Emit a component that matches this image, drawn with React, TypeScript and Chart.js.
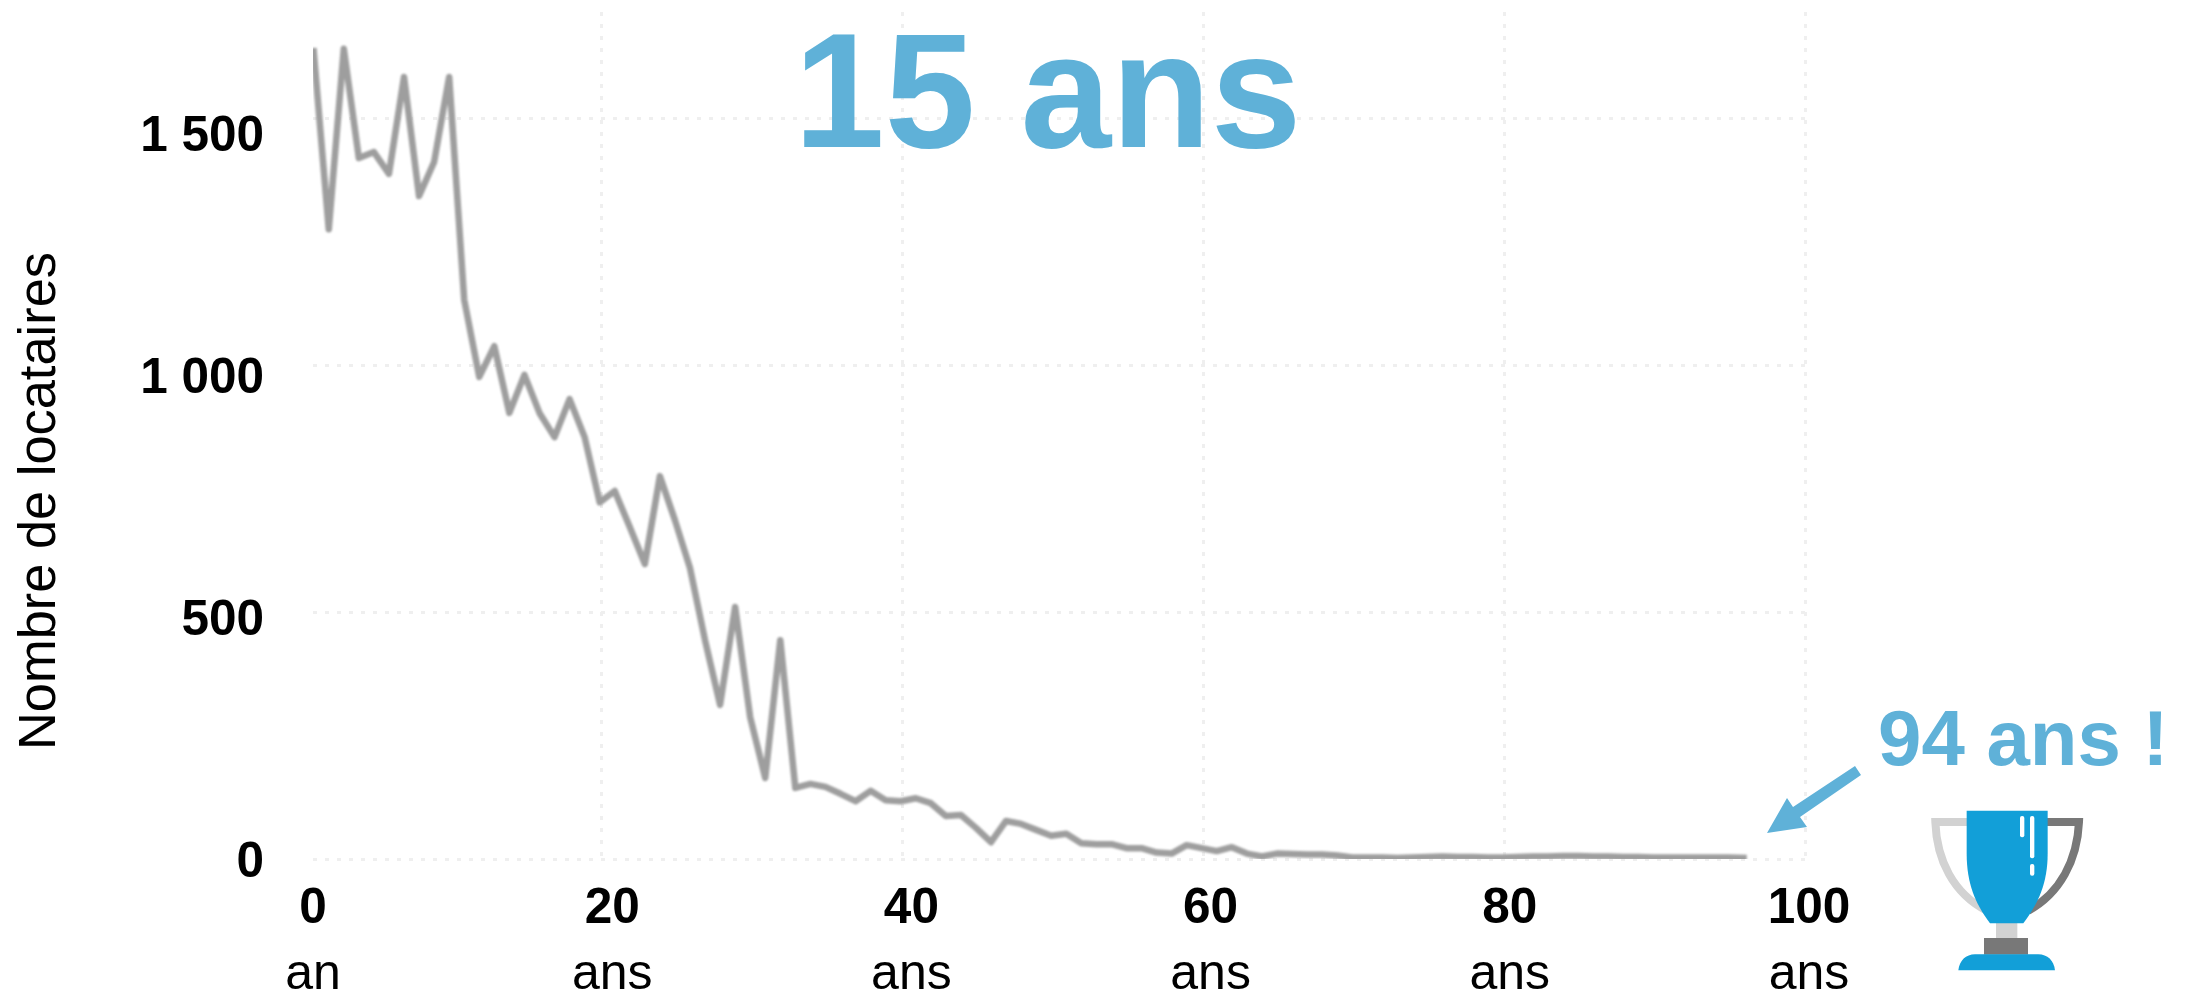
import React, { useEffect, useRef } from "react";
import { Chart, registerables } from "chart.js";

Chart.register(...registerables);

const ages = [
  1, 2, 3, 4, 5, 6, 7, 8, 9, 10, 11, 12, 13, 14, 15, 16, 17, 18, 19, 20, 21, 22, 23, 24, 25, 26, 27, 28, 29, 30, 31, 32,
  33, 34, 35, 36, 37, 38, 39, 40, 41, 42, 43, 44, 45, 46, 47, 48, 49, 50, 51, 52, 53, 54, 55, 56, 57, 58, 59, 60, 61,
  62, 63, 64, 65, 66, 67, 68, 69, 70, 71, 72, 73, 74, 75, 76, 77, 78, 79, 80, 81, 82, 83, 84, 85, 86, 87, 88, 89, 90,
  91, 92, 93, 94, 95, 96,
];
const tenants = [
  1635, 1275, 1640, 1419, 1431, 1387, 1583, 1342, 1411, 1583, 1132, 976, 1038, 903, 980, 903, 854, 931, 854, 722, 745,
  672, 597, 775, 686, 589, 443, 312, 510, 287, 164, 443, 144, 152, 146, 132, 117, 138, 119, 117, 123, 113, 87, 89, 63,
  34, 77, 71, 59, 47, 51, 32, 30, 30, 22, 22, 13, 11, 28, 22, 16, 24, 11, 5, 11, 10, 9, 9, 7, 3, 3, 3, 2, 3, 4, 5, 4,
  4, 3, 3, 4, 5, 5, 6, 6, 5, 5, 4, 4, 3, 3, 3, 3, 3, 3, 2,
];
const xTickValues = [0, 20, 40, 60, 80, 100];
const xTickUnits = ["an", "ans", "ans", "ans", "ans", "ans"];
const xGridValues = [20, 40, 60, 80, 100];
const yTickValues = [0, 500, 1000, 1500];
const yTickLabels = ["0", "500", "1 000", "1 500"];
const yGridValues = [0, 500, 1000, 1500];
const mainTitle = "15 ans";
const recordTitle = "94 ans !";
const yAxisTitle = "Nombre de locataires";

const FONT = '"Liberation Sans", Arial, sans-serif';
const ACCENT = "#5FB1D8";
const CUP = "#129FD8";

const toTicks = (values: number[]) => values.map((value) => ({ value }));
const noPadding = (s: any) => {
  s.paddingTop = 0;
  s.paddingBottom = 0;
  s.paddingLeft = 0;
  s.paddingRight = 0;
};

function drawTrophy(ctx: CanvasRenderingContext2D) {
  ctx.save();
  ctx.translate(1700, 680);
  ctx.scale(1 / 3, 1 / 3);
  ctx.lineWidth = 24;
  ctx.lineCap = "butt";
  ctx.strokeStyle = "#D2D2D2";
  ctx.beginPath();
  ctx.moveTo(810, 426);
  ctx.lineTo(706, 426);
  ctx.bezierCurveTo(710, 540, 760, 640, 860, 692);
  ctx.stroke();
  ctx.strokeStyle = "#787878";
  ctx.beginPath();
  ctx.moveTo(1030, 426);
  ctx.lineTo(1137, 426);
  ctx.bezierCurveTo(1132, 540, 1080, 640, 985, 692);
  ctx.stroke();
  ctx.fillStyle = "#D2D2D2";
  ctx.fillRect(888, 725, 64, 52);
  ctx.fillStyle = "#787878";
  ctx.fillRect(852, 774, 132, 50);
  ctx.fillStyle = CUP;
  ctx.beginPath();
  ctx.moveTo(800, 392);
  ctx.lineTo(1043, 392);
  ctx.lineTo(1043, 520);
  ctx.bezierCurveTo(1043, 610, 1015, 670, 970, 730);
  ctx.lineTo(870, 730);
  ctx.bezierCurveTo(825, 670, 800, 610, 800, 520);
  ctx.closePath();
  ctx.fill();
  ctx.beginPath();
  ctx.moveTo(775, 871);
  ctx.bezierCurveTo(778, 842, 798, 823, 825, 823);
  ctx.lineTo(1015, 823);
  ctx.bezierCurveTo(1042, 823, 1062, 842, 1065, 871);
  ctx.closePath();
  ctx.fill();
  ctx.fillStyle = "#FFFFFF";
  const bars: [number, number, number][] = [
    [960, 408, 64],
    [990, 408, 127],
    [990, 552, 35],
  ];
  for (const [x, y, h] of bars) {
    ctx.beginPath();
    ctx.roundRect(x, y, 13, h, 6);
    ctx.fill();
  }
  ctx.restore();
}

function drawArrow(ctx: CanvasRenderingContext2D) {
  ctx.save();
  ctx.fillStyle = ACCENT;
  ctx.beginPath();
  ctx.moveTo(1855, 766);
  ctx.lineTo(1861, 775);
  ctx.lineTo(1800, 817);
  ctx.lineTo(1807, 827);
  ctx.lineTo(1767, 833);
  ctx.lineTo(1787, 798);
  ctx.lineTo(1793, 807);
  ctx.closePath();
  ctx.fill();
  ctx.restore();
}

const annotations = {
  id: "annotations",
  beforeDatasetsDraw(chart: Chart) {
    chart.ctx.save();
    (chart.ctx as any).filter = "blur(0.9px)";
  },
  afterDatasetsDraw(chart: Chart) {
    chart.ctx.restore();
  },
  afterDraw(chart: Chart) {
    const ctx = chart.ctx;
    ctx.save();
    ctx.textBaseline = "alphabetic";
    ctx.fillStyle = ACCENT;
    ctx.textAlign = "left";
    ctx.font = `bold 163px ${FONT}`;
    ctx.fillText(mainTitle, 794, 147);
    ctx.font = `bold 78px ${FONT}`;
    ctx.fillText(recordTitle, 1878, 765);
    ctx.fillStyle = "#000000";
    ctx.textAlign = "center";
    ctx.font = `52.4px ${FONT}`;
    ctx.translate(55, 501);
    ctx.rotate(-Math.PI / 2);
    ctx.fillText(yAxisTitle, 0, 0);
    ctx.restore();
    drawArrow(ctx);
    drawTrophy(ctx);
  },
};

export default function App() {
  const ref = useRef<HTMLCanvasElement>(null);
  useEffect(() => {
    if (!ref.current) return;
    const gridStyle = {
      color: "#EFEFEF",
      lineWidth: 3,
      drawTicks: false,
    };
    const chart = new Chart(ref.current, {
      type: "line",
      data: {
        datasets: [
          {
            data: ages.map((a, i) => ({ x: a, y: tenants[i] })),
            borderColor: "#9E9E9E",
            borderWidth: 6.5,
            pointRadius: 0,
            tension: 0,
            borderCapStyle: "square",
            borderJoinStyle: "round",
            xAxisID: "x",
            yAxisID: "y",
          },
        ],
      },
      plugins: [annotations],
      options: {
        responsive: false,
        animation: false,
        layout: { padding: { left: 0, top: 12, right: 390, bottom: 0 } },
        plugins: { legend: { display: false }, tooltip: { enabled: false }, title: { display: false } },
        scales: {
          x: { type: "linear", display: false, min: 0.953, max: 100.35 },
          xGrid: {
            type: "linear",
            position: "bottom",
            min: 0.817,
            max: 100.22,
            weight: 0,
            afterBuildTicks: (s: any) => {
              s.ticks = toTicks(xGridValues);
            },
            afterFit: (s: any) => {
              s.height = 0;
              noPadding(s);
            },
            ticks: { display: false },
            border: { display: false, dash: [4, 8] },
            grid: gridStyle,
          },
          xTop: {
            type: "linear",
            position: "bottom",
            min: 0,
            max: 100,
            weight: 1,
            afterBuildTicks: (s: any) => {
              s.ticks = toTicks(xTickValues);
            },
            afterFit: (s: any) => {
              s.height = 78;
              noPadding(s);
            },
            border: { display: false },
            grid: { display: false },
            ticks: {
              autoSkip: false,
              maxRotation: 0,
              padding: 13,
              color: "#000000",
              font: { family: FONT, size: 49.5, weight: "bold" },
              callback: (v: any) => String(v),
            },
          },
          xBottom: {
            type: "linear",
            position: "bottom",
            min: 0,
            max: 100,
            weight: 2,
            afterBuildTicks: (s: any) => {
              s.ticks = toTicks(xTickValues);
            },
            afterFit: (s: any) => {
              s.height = 55;
              noPadding(s);
            },
            border: { display: false },
            grid: { display: false },
            ticks: {
              autoSkip: false,
              maxRotation: 0,
              padding: 0,
              color: "#000000",
              font: { family: FONT, size: 50, weight: "normal" },
              callback: (v: any) => xTickUnits[xTickValues.indexOf(v)],
            },
          },
          y: {
            type: "linear",
            position: "left",
            min: 0,
            max: 1714.6,
            weight: 0,
            afterBuildTicks: (s: any) => {
              s.ticks = toTicks(yGridValues);
            },
            afterFit: (s: any) => {
              s.width = 0;
              noPadding(s);
            },
            ticks: { display: false },
            border: { display: false, dash: [4, 8] },
            grid: gridStyle,
          },
          yLabels: {
            type: "linear",
            position: "left",
            min: 8,
            max: 1760,
            weight: 1,
            afterBuildTicks: (s: any) => {
              s.ticks = toTicks(yTickValues);
            },
            afterFit: (s: any) => {
              s.width = 313;
              noPadding(s);
            },
            border: { display: false },
            grid: { display: false },
            ticks: {
              padding: 41,
              color: "#000000",
              font: { family: FONT, size: 49.5, weight: "bold" },
              callback: (v: any) => yTickLabels[yTickValues.indexOf(v)],
            },
          },
        },
      },
    } as any);
    return () => chart.destroy();
  }, []);
  return (
    <div style={{ position: "absolute", left: 0, top: 0, width: 2199, height: 992, background: "#FFFFFF" }}>
      <canvas ref={ref} width={2199} height={992} style={{ display: "block" }} />
    </div>
  );
}
